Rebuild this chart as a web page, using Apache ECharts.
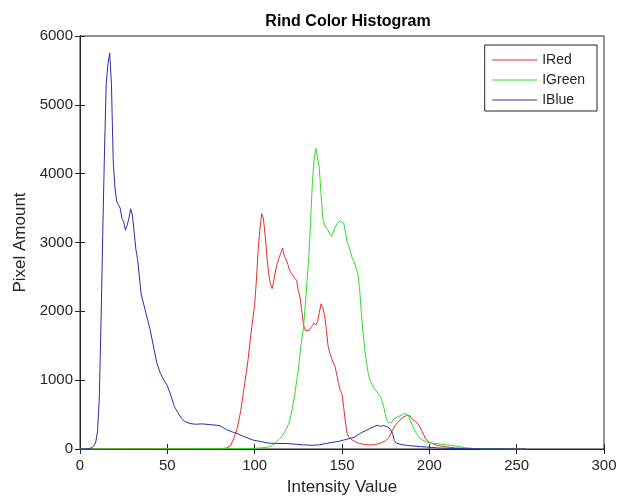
<!doctype html>
<html>
<head>
<meta charset="utf-8">
<title>Rind Color Histogram</title>
<script src="https://cdn.jsdelivr.net/npm/echarts@6/dist/echarts.min.js"></script>
<style>
  html, body { margin: 0; padding: 0; background: #fff; }
  #main { width: 621px; height: 497px; }
</style>
</head>
<body>
<div id="main"></div>
<script>
// values, intensity -> pixel amount
var redX = [0, 80, 84, 86, 88, 90, 92, 94, 96, 98, 100, 101, 102, 103, 104, 105, 106, 107, 108, 109, 110, 111, 112, 113, 114, 115, 116, 117, 118, 119, 120, 121, 122, 123, 124, 125, 126, 127, 128, 129, 130, 131, 132, 133, 134, 135, 136, 137, 138, 139, 140, 141, 142, 143, 144, 145, 146, 147, 148, 149, 150, 151, 152, 153, 154, 156, 158, 160, 163, 166, 169, 172, 175, 177, 179, 181, 183, 185, 187, 188, 189, 190, 192, 194, 196, 198, 200, 202, 204, 207, 210, 215, 220, 230, 240, 255];
var redY = [0, 2, 15, 40, 150, 300, 550, 900, 1250, 1700, 2100, 2450, 2900, 3200, 3420, 3350, 3100, 2800, 2550, 2400, 2330, 2450, 2600, 2700, 2780, 2850, 2920, 2800, 2750, 2680, 2600, 2550, 2520, 2480, 2450, 2300, 2200, 2000, 1800, 1720, 1740, 1720, 1760, 1790, 1830, 1800, 1850, 1980, 2110, 2050, 1950, 1750, 1500, 1400, 1320, 1250, 1200, 1080, 950, 850, 800, 600, 380, 220, 170, 130, 100, 80, 65, 58, 65, 85, 120, 170, 280, 360, 420, 460, 490, 495, 480, 440, 400, 350, 250, 140, 100, 75, 58, 40, 30, 15, 8, 3, 1, 0];

var greenX = [0, 60, 90, 100, 105, 108, 110, 112, 114, 116, 118, 120, 121, 122, 123, 124, 125, 126, 127, 128, 129, 130, 131, 132, 133, 134, 135, 136, 137, 138, 139, 140, 141, 142, 143, 144, 145, 146, 147, 148, 149, 150, 151, 152, 153, 154, 155, 156, 157, 158, 159, 160, 161, 162, 163, 164, 165, 166, 168, 170, 172, 173, 174, 175, 176, 177, 178, 180, 182, 184, 185, 186, 187, 188, 189, 190, 191, 192, 194, 196, 198, 200, 203, 206, 210, 215, 220, 225, 230, 240, 255];
var greenY = [0, 3, 5, 10, 20, 30, 50, 90, 140, 200, 280, 400, 520, 650, 800, 980, 1150, 1400, 1600, 1780, 2100, 2450, 2800, 3300, 3850, 4200, 4370, 4350, 4080, 3700, 3350, 3250, 3210, 3180, 3120, 3090, 3150, 3220, 3270, 3290, 3310, 3330, 3280, 3150, 3000, 2950, 2850, 2760, 2720, 2700, 2550, 2350, 2000, 1700, 1450, 1270, 1100, 1000, 900, 830, 760, 690, 600, 480, 400, 380, 375, 440, 470, 490, 500, 520, 540, 480, 420, 360, 300, 250, 180, 130, 105, 90, 80, 72, 60, 45, 20, 8, 4, 2, 0];

var blueX = [0, 3, 5, 7, 8, 9, 10, 11, 12, 13, 14, 15, 16, 17, 18, 19, 20, 21, 22, 23, 24, 25, 26, 27, 28, 29, 30, 31, 32, 33, 34, 35, 36, 38, 40, 42, 44, 46, 48, 50, 52, 54, 56, 58, 60, 63, 66, 70, 74, 78, 80, 82, 84, 86, 88, 90, 92, 95, 99, 103, 108, 113, 118, 123, 128, 133, 137, 141, 145, 148, 151, 154, 157, 160, 162, 164, 166, 168, 170, 172, 174, 176, 177, 178, 179, 180, 181, 182, 185, 190, 195, 200, 205, 210, 220, 230, 240, 250, 255];
var blueY = [0, 0, 5, 20, 50, 100, 250, 700, 1800, 3100, 4300, 5300, 5600, 5750, 5300, 4200, 3800, 3600, 3550, 3500, 3350, 3300, 3180, 3250, 3350, 3490, 3400, 3150, 2900, 2750, 2500, 2250, 2150, 1950, 1750, 1500, 1250, 1100, 1000, 920, 780, 620, 530, 450, 400, 370, 360, 365, 355, 345, 340, 310, 280, 260, 240, 225, 200, 170, 130, 110, 85, 80, 80, 70, 60, 55, 60, 80, 100, 110, 130, 150, 170, 220, 250, 270, 300, 320, 345, 330, 340, 320, 300, 280, 220, 120, 85, 70, 60, 45, 35, 25, 15, 10, 5, 3, 2, 1, 0];

var xTicks = [0, 50, 100, 150, 200, 250, 300];
var yTicks = [0, 1000, 2000, 3000, 4000, 5000, 6000];

function pairs(xs, ys) {
  var out = [];
  for (var i = 0; i < xs.length; i++) out.push([xs[i], ys[i]]);
  return out;
}

var font = 'Liberation Sans, Arial, sans-serif';
var ink = '#262626';

var myChart = echarts.init(document.getElementById('main'));
var option = {
  animation: false,
  backgroundColor: '#fff',
  title: {
    text: 'Rind Color Histogram',
    left: 343,
    top: 9,
    textAlign: 'center',
    textStyle: { fontFamily: font, fontSize: 16, fontWeight: 'bold', color: '#000' }
  },
  legend: {
    orient: 'vertical',
    right: 24,
    top: 45,
    data: ['IRed', 'IGreen', 'IBlue'],
    backgroundColor: '#fff',
    borderColor: ink,
    borderWidth: 1,
    borderRadius: 0,
    padding: [8, 12, 4, 7],
    itemGap: 6,
    itemWidth: 45,
    itemHeight: 14,
    itemStyle: { color: 'transparent', borderWidth: 0 },
    lineStyle: { width: 1 },
    textStyle: { fontFamily: font, fontSize: 14, color: ink }
  },
  grid: {
    left: 80, right: 17, top: 36, bottom: 48,
    outerBoundsMode: 'none',
    show: true,
    borderColor: ink,
    borderWidth: 1
  },
  xAxis: [{
    type: 'value',
    min: xTicks[0], max: xTicks[xTicks.length - 1], interval: 50,
    name: 'Intensity Value',
    nameLocation: 'middle',
    nameGap: 30,
    nameTextStyle: { fontFamily: font, fontSize: 17, color: ink },
    axisLine: { show: true, lineStyle: { color: ink } },
    axisTick: { show: true, inside: true, length: 5, lineStyle: { color: ink } },
    axisLabel: { fontFamily: font, fontSize: 15, color: ink, margin: 9 },
    splitLine: { show: false }
  }, {
    type: 'value', position: 'top',
    min: xTicks[0], max: xTicks[xTicks.length - 1], interval: 50,
    axisLine: { show: true, lineStyle: { color: ink } },
    axisTick: { show: true, inside: true, length: 5, lineStyle: { color: ink } },
    axisLabel: { show: false },
    splitLine: { show: false }
  }],
  yAxis: [{
    type: 'value',
    min: yTicks[0], max: yTicks[yTicks.length - 1], interval: 1000,
    name: 'Pixel Amount',
    nameLocation: 'middle',
    nameGap: 43,
    nameTextStyle: { fontFamily: font, fontSize: 17, color: ink },
    axisLine: { show: true, lineStyle: { color: ink } },
    axisTick: { show: true, inside: true, length: 5, lineStyle: { color: ink } },
    axisLabel: { fontFamily: font, fontSize: 15, color: ink, margin: 7, formatter: function (v) { return String(v); } },
    splitLine: { show: false }
  }, {
    type: 'value', position: 'right',
    min: yTicks[0], max: yTicks[yTicks.length - 1], interval: 1000,
    axisLine: { show: true, lineStyle: { color: ink } },
    axisTick: { show: true, inside: true, length: 5, lineStyle: { color: ink } },
    axisLabel: { show: false },
    splitLine: { show: false }
  }],
  series: [{
    name: 'IRed', type: 'line', symbol: 'none',
    lineStyle: { width: 1, color: '#e3302c' }, itemStyle: { color: '#e3302c' },
    data: pairs(redX, redY)
  }, {
    name: 'IGreen', type: 'line', symbol: 'none',
    lineStyle: { width: 1, color: '#2edc2e' }, itemStyle: { color: '#2edc2e' },
    data: pairs(greenX, greenY)
  }, {
    name: 'IBlue', type: 'line', symbol: 'none',
    lineStyle: { width: 1, color: '#2c2cb0' }, itemStyle: { color: '#2c2cb0' },
    data: pairs(blueX, blueY)
  }]
};
myChart.setOption(option);
</script>
</body>
</html>
